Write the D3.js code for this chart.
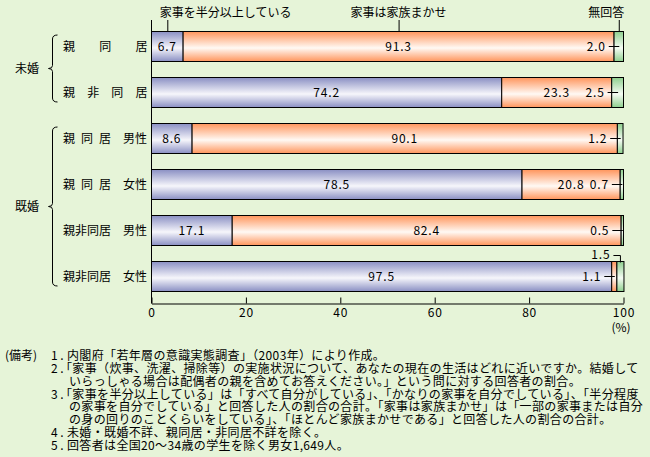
<!DOCTYPE html>
<html><head><meta charset="utf-8">
<script src="https://cdn.jsdelivr.net/npm/d3@7/dist/d3.min.js"></script>
<style>
html,body{margin:0;padding:0;background:#E6F4D8;}
svg{display:block;font-family:"Noto Sans CJK JP","Noto Sans",sans-serif;}
</style></head>
<body>
<svg id="chart" width="650" height="457"></svg>
<script>
const groups = ["未婚","未婚","既婚","既婚","既婚","既婚"];
const categories = ["親同居","親非同居","親同居","親同居","親非同居","親非同居"];
const sexes = ["","","男性","女性","男性","女性"];
const seriesNames = ["家事を半分以上している","家事は家族まかせ","無回答"];
const halfOrMore = [6.7,74.2,8.6,78.5,17.1,97.5];
const familyDoes = [91.3,23.3,90.1,20.8,82.4,1.1];
const noAnswer = [2.0,2.5,1.2,0.7,0.5,1.5];
const xTicks = [0,20,40,60,80,100];
const notes = [
  ["(備考)","1.","内閣府「若年層の意識実態調査」（2003年）により作成。"],
  ["","2.","「家事（炊事、洗濯、掃除等）の実施状況について、あなたの現在の生活はどれに近いですか。結婚して"],
  ["","","いらっしゃる場合は配偶者の親を含めてお答えください。」という問に対する回答者の割合。"],
  ["","3.","「家事を半分以上している」は「すべて自分がしている」、「かなりの家事を自分でしている」、「半分程度"],
  ["","","の家事を自分でしている」と回答した人の割合の合計。「家事は家族まかせ」は「一部の家事または自分"],
  ["","","の身の回りのことくらいをしている」、「ほとんど家族まかせである」と回答した人の割合の合計。"],
  ["","4.","未婚・既婚不詳、親同居・非同居不詳を除く。"],
  ["","5.","回答者は全国20～34歳の学生を除く男女1,649人。"]
];

const series = [halfOrMore, familyDoes, noAnswer];
const colors = [
  ["#8A8FC3","#F6F6FB"],
  ["#FF955C","#FFF9F4"],
  ["#8ECF8E","#F6FCF4"]
];

const svg = d3.select("#chart");
const defs = svg.append("defs");
colors.forEach((c,i)=>{
  const g = defs.append("linearGradient").attr("id","g"+i)
    .attr("x1",0).attr("y1",0).attr("x2",0).attr("y2",1);
  g.append("stop").attr("offset","0%").attr("stop-color",c[0]);
  g.append("stop").attr("offset","55%").attr("stop-color",c[1]);
  g.append("stop").attr("offset","100%").attr("stop-color",c[0]);
});

const x = d3.scaleLinear().domain([0,100]).range([151.5,623.5]);
const rows = d3.range(categories.length);
const y = d3.scaleBand().domain(rows).range([31.5,291.5]).paddingInner(16/46).paddingOuter(0);
const axisY = 303.5;

// vertical axis line
svg.append("line").attr("x1",x(0)).attr("x2",x(0)).attr("y1",20).attr("y2",axisY)
  .attr("stroke","#000").attr("stroke-width",1);

// bars
const segs = [];
rows.forEach(r=>{
  let cum = 0;
  series.forEach((s,si)=>{
    segs.push({r, si, v:s[r], x0:cum, x1:cum+s[r]});
    cum += s[r];
  });
});
svg.append("g").selectAll("rect").data(segs).join("rect")
  .attr("x",d=>x(d.x0)).attr("y",d=>y(d.r))
  .attr("width",d=>x(d.x1)-x(d.x0)).attr("height",y.bandwidth())
  .attr("fill",d=>`url(#g${d.si})`).attr("stroke","#000").attr("stroke-width",1);

// value labels
const lab = svg.append("g").attr("font-size",12).attr("fill","#000");
rows.forEach(r=>{
  const rs = segs.filter(d=>d.r===r);
  let prevSmall = false;
  rs.forEach(d=>{
    const w = x(d.x1)-x(d.x0);
    const cx = (x(d.x0)+x(d.x1))/2;
    const cy = y(d.r)+y.bandwidth()/2;
    const txt = d.v.toFixed(1);
    if (w > 25) {
      lab.append("text").attr("x",cx).attr("y",cy).attr("dy","0.36em")
        .attr("text-anchor","middle").attr("letter-spacing",0.8).text(txt);
      prevSmall = false;
    } else if (!prevSmall) {
      lab.append("line").attr("x1",cx-10).attr("x2",cx+0.5).attr("y1",cy).attr("y2",cy)
        .attr("stroke","#000");
      lab.append("text").attr("x",cx-13).attr("y",cy).attr("dy","0.36em")
        .attr("text-anchor","end").attr("letter-spacing",0.8).text(txt);
      prevSmall = true;
    } else {
      const ty = y(d.r)-6;
      lab.append("path").attr("d",`M${cx-7},${ty}H${cx}V${y(d.r)+1}`)
        .attr("fill","none").attr("stroke","#000");
      lab.append("text").attr("x",cx-10).attr("y",ty-1).attr("dy","0.36em")
        .attr("text-anchor","end").attr("letter-spacing",0.8).text(txt);
    }
  });
});

// series annotations at top (first row)
const annot = svg.append("g").attr("font-size",12);
const firstRow = segs.filter(d=>d.r===0);
const anchors = [["start",-7.5],["middle",0],["end",5.5]];
firstRow.forEach((d,i)=>{
  const cx = (x(d.x0)+x(d.x1))/2;
  annot.append("line").attr("x1",cx+0.5).attr("x2",cx+0.5).attr("y1",20).attr("y2",y(0))
    .attr("stroke","#000");
  annot.append("text").attr("x",cx+anchors[i][1]).attr("y",17)
    .attr("text-anchor",anchors[i][0]).text(seriesNames[i]);
});

// row labels
const rl = svg.append("g").attr("font-size",12);
rows.forEach(r=>{
  const cy = y(r)+y.bandwidth()/2;
  const chars = Array.from(categories[r]);
  const endX = sexes[r] ? 99 : 135.5;
  const step = (endX-63)/(chars.length-1);
  chars.forEach((c,i)=>{
    rl.append("text").attr("x",63+i*step).attr("y",cy).attr("dy","0.38em").text(c);
  });
  if (sexes[r]) rl.append("text").attr("x",123).attr("y",cy).attr("dy","0.38em").text(sexes[r]);
});

// group braces
const gl = svg.append("g");
const groupNames = Array.from(new Set(groups));
groupNames.forEach(g=>{
  const idx = rows.filter(r=>groups[r]===g);
  const t = y(idx[0])+3.5, b = y(idx[idx.length-1])+y.bandwidth()-5.5;
  const m = (t+b)/2, bx = 52.5;
  gl.append("path").attr("d",
    `M57.5,${t} Q${bx},${t} ${bx},${t+4} L${bx},${m-3} Q${bx},${m} ${bx-4},${m} Q${bx},${m} ${bx},${m+3} L${bx},${b-4} Q${bx},${b} 57.5,${b}`)
    .attr("fill","none").attr("stroke","#000").attr("stroke-width",1);
  gl.append("text").attr("x",15).attr("y",m).attr("dy","0.38em").attr("font-size",12).text(g);
});

// x axis
const ax = svg.append("g").attr("transform",`translate(0,${axisY})`)
  .call(d3.axisBottom(x).tickValues(xTicks).tickSizeInner(-6).tickSizeOuter(0).tickPadding(5).tickFormat(d3.format("d")));
ax.select(".domain").attr("stroke","#000");
ax.selectAll(".tick line").attr("stroke","#000");
ax.selectAll(".tick text").attr("font-size",12).attr("fill","#000")
  .attr("font-family","'Noto Sans CJK JP',sans-serif").attr("letter-spacing",0.8);
svg.append("text").attr("x",621).attr("y",332).attr("text-anchor","middle")
  .attr("font-size",12).text("(%)");

// notes
const nt = svg.append("g").attr("font-size",12).attr("letter-spacing",0.35);
notes.forEach((n,i)=>{
  const ly = 360 + i*12.85;
  if (n[0]) nt.append("text").attr("x",5).attr("y",ly).attr("letter-spacing",0).text(n[0]);
  if (n[1]) nt.append("text").attr("x",51).attr("y",ly).attr("letter-spacing",2.5).text(n[1]);
  const sx = n[2].startsWith("「") ? 60 : (n[1] ? 67 : 69);
  nt.append("text").attr("x",sx).attr("y",ly).text(n[2]);
});
</script>
</body></html>
